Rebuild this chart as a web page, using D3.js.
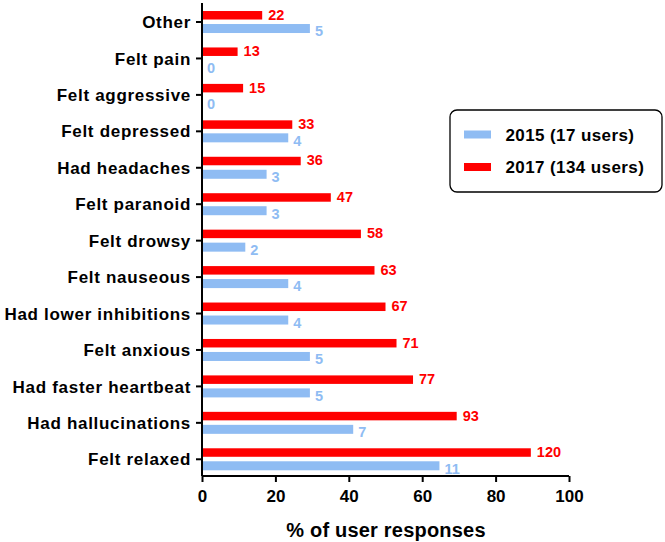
<!DOCTYPE html>
<html><head><meta charset="utf-8">
<script src="https://cdn.jsdelivr.net/npm/d3@7"></script>
<style>
body{margin:0;background:#fff;}
svg text{font-family:"Liberation Sans",Arial,Helvetica,sans-serif;font-weight:bold;}
</style></head>
<body>
<svg id="chart" width="665" height="542"></svg>
<script>
const categories = ["Other","Felt pain","Felt aggressive","Felt depressed","Had headaches","Felt paranoid","Felt drowsy","Felt nauseous","Had lower inhibitions","Felt anxious","Had faster heartbeat","Had hallucinations","Felt relaxed"];
const pct2017 = [16.4, 9.7, 11.2, 24.6, 26.9, 35.1, 43.3, 47.0, 50.0, 53.0, 57.5, 69.4, 89.6];
const count2017 = [22, 13, 15, 33, 36, 47, 58, 63, 67, 71, 77, 93, 120];
const pct2015 = [29.4, 0, 0, 23.5, 17.6, 17.6, 11.8, 23.5, 23.5, 29.4, 29.4, 41.2, 64.7];
const count2015 = [5, 0, 0, 4, 3, 3, 2, 4, 4, 5, 5, 7, 11];
const xTicks = [0, 20, 40, 60, 80, 100];
const legendLabels = ["2015 (17 users)", "2017 (134 users)"];
const colors = {y2015: "#8fbcf3", y2017: "#ff0000"};

const svg = d3.select("#chart");
const x = d3.scaleLinear().domain([0, 100]).range([202, 569]);
const y = d3.scaleBand().domain(categories).range([3.8, 477.5]);
const step = y.step();
const cy = c => y(c) + step / 2;

// bars
svg.append("g").selectAll("rect").data(categories).join("rect")
  .attr("x", x(0)).attr("y", (c) => cy(c) - 11)
  .attr("width", (c, i) => x(pct2017[i]) - x(0)).attr("height", 8.5)
  .attr("fill", colors.y2017);
svg.append("g").selectAll("rect").data(categories).join("rect")
  .attr("x", x(0)).attr("y", (c) => cy(c) + 2)
  .attr("width", (c, i) => x(pct2015[i]) - x(0)).attr("height", 9)
  .attr("fill", colors.y2015);

// value labels
svg.append("g").selectAll("text").data(categories).join("text")
  .attr("x", (c, i) => x(pct2017[i]) + 6).attr("y", c => cy(c) - 2.3)
  .attr("font-size", 14.5).attr("fill", colors.y2017)
  .text((c, i) => count2017[i]);
svg.append("g").selectAll("text").data(categories).join("text")
  .attr("x", (c, i) => x(pct2015[i]) + 5).attr("y", c => cy(c) + 14.3)
  .attr("font-size", 14.5).attr("fill", colors.y2015)
  .text((c, i) => count2015[i]);

// axes
const yAxis = svg.append("g").attr("transform", `translate(${x(0)},0)`)
  .call(d3.axisLeft(y).tickSize(6).tickPadding(5));
yAxis.select(".domain").attr("stroke", "#000").attr("stroke-width", 2)
  .attr("d", `M0,3V476`);
yAxis.selectAll(".tick line").attr("stroke-width", 2);
yAxis.selectAll(".tick text").attr("font-size", 17).attr("fill", "#000")
  .style("font-family", "'Liberation Sans',Arial,sans-serif").style("font-weight", "bold")
  .style("letter-spacing", "0.7px").attr("dy", "0.36em");

const xAxis = svg.append("g").attr("transform", `translate(0,476)`)
  .call(d3.axisBottom(x).tickValues(xTicks).tickSize(6).tickPadding(8));
xAxis.select(".domain").attr("stroke-width", 2).attr("d", `M${x(0)},0H${x(100)}`);
xAxis.selectAll(".tick line").attr("stroke-width", 2);
xAxis.selectAll(".tick text").attr("font-size", 17).attr("fill", "#000")
  .style("font-family", "'Liberation Sans',Arial,sans-serif").style("font-weight", "bold");

svg.append("text").attr("x", 386).attr("y", 537).attr("text-anchor", "middle")
  .attr("font-size", 20).style("letter-spacing", "0.2px").text("% of user responses");

// legend
const lg = svg.append("g");
lg.append("rect").attr("x", 450).attr("y", 110).attr("width", 212).attr("height", 82)
  .attr("rx", 7).attr("fill", "#fff").attr("stroke", "#000").attr("stroke-width", 1.3);
const lc = [colors.y2015, colors.y2017];
legendLabels.forEach((l, i) => {
  lg.append("rect").attr("x", 464).attr("y", 130.5 + i * 32.5).attr("width", 27).attr("height", 8).attr("fill", lc[i]);
  lg.append("text").attr("x", 505.5).attr("y", 140.5 + i * 32.5).attr("font-size", 17)
    .style("letter-spacing", "0.4px").attr("fill", "#000").text(l);
});
</script>
</body></html>
